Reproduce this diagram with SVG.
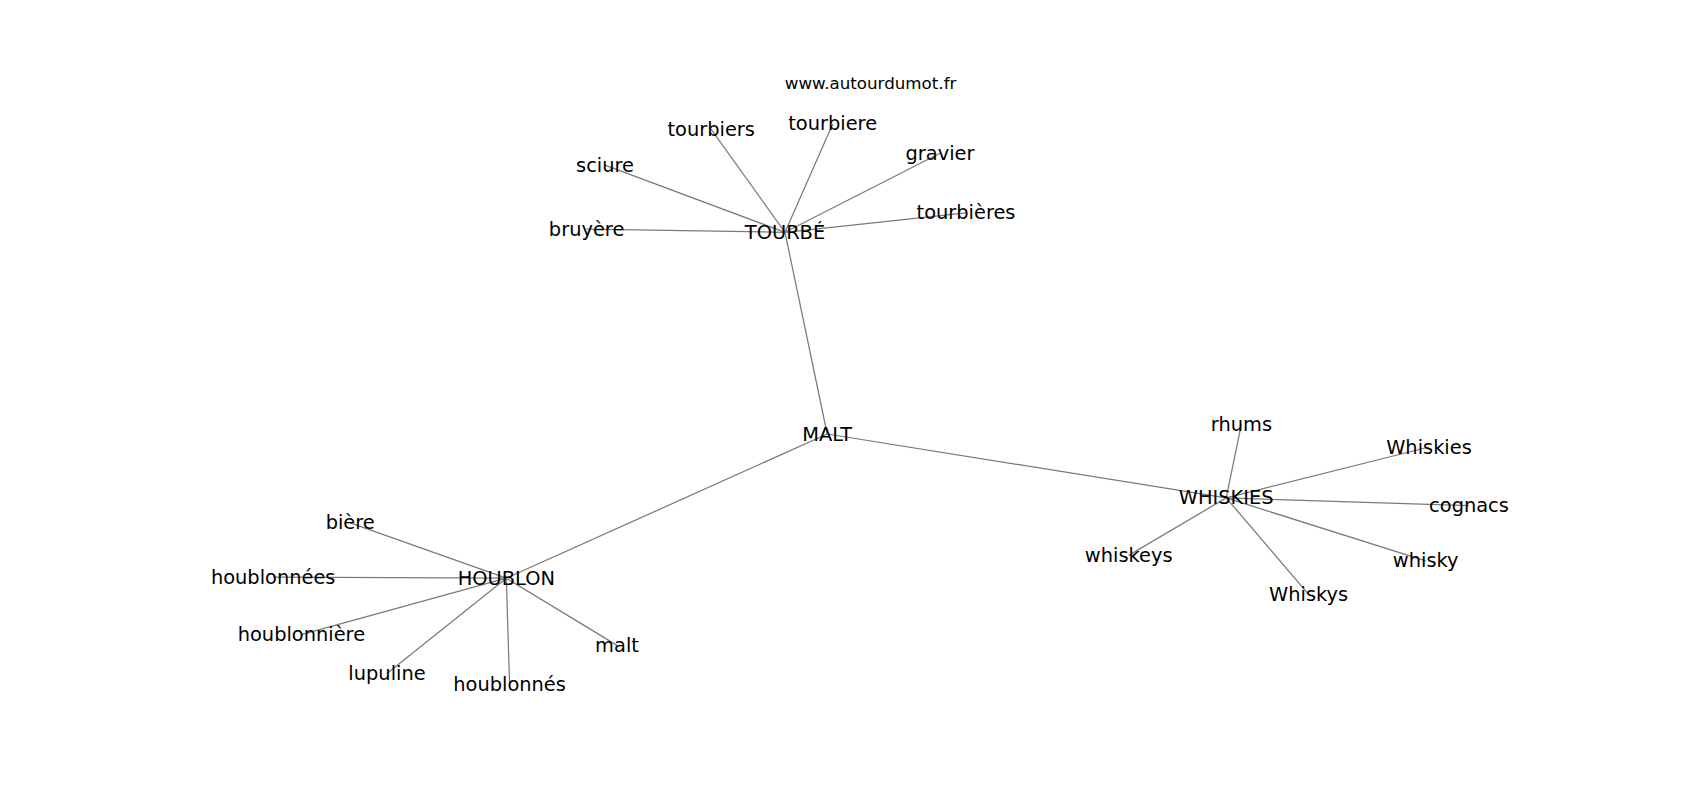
<svg xmlns="http://www.w3.org/2000/svg" width="1700" height="800" viewBox="0 0 1700 800">
<style>
.e{stroke:#7a7a7a;stroke-width:1.25;fill:none}
.n text{font-family:"DejaVu Sans",sans-serif;font-size:19.4px;fill:#000;text-anchor:middle}
.w{font-family:"DejaVu Sans",sans-serif;font-size:16.7px;fill:#000;text-anchor:middle}
</style>
<rect width="1700" height="800" fill="#fff"/>
<text class="w" x="870.6" y="88.8">www.autourdumot.fr</text>
<g id="edges">
<line class="e" x1="785" y1="232.3" x2="827.2" y2="434"/>
<line class="e" x1="827.2" y1="434" x2="506.3" y2="578.2"/>
<line class="e" x1="827.2" y1="434" x2="1226.2" y2="497.9"/>
<line class="e" x1="785" y1="232.3" x2="711.2" y2="129.3"/>
<line class="e" x1="785" y1="232.3" x2="832.7" y2="123.9"/>
<line class="e" x1="785" y1="232.3" x2="940" y2="153.2"/>
<line class="e" x1="785" y1="232.3" x2="605" y2="165.1"/>
<line class="e" x1="785" y1="232.3" x2="966" y2="212.9"/>
<line class="e" x1="785" y1="232.3" x2="586.6" y2="229.1"/>
<line class="e" x1="1226.2" y1="497.9" x2="1241.4" y2="424.2"/>
<line class="e" x1="1226.2" y1="497.9" x2="1429" y2="447"/>
<line class="e" x1="1226.2" y1="497.9" x2="1469" y2="505.6"/>
<line class="e" x1="1226.2" y1="497.9" x2="1128.7" y2="555.4"/>
<line class="e" x1="1226.2" y1="497.9" x2="1425.7" y2="560.9"/>
<line class="e" x1="1226.2" y1="497.9" x2="1308.6" y2="594.4"/>
<line class="e" x1="506.3" y1="578.2" x2="350.2" y2="522.9"/>
<line class="e" x1="506.3" y1="578.2" x2="273.2" y2="577.1"/>
<line class="e" x1="506.3" y1="578.2" x2="301.4" y2="634.6"/>
<line class="e" x1="506.3" y1="578.2" x2="617" y2="645.4"/>
<line class="e" x1="506.3" y1="578.2" x2="387" y2="673.6"/>
<line class="e" x1="506.3" y1="578.2" x2="509.6" y2="684.4"/>
</g>
<g id="n-tourbe" class="n"><text x="785" y="238.8">TOURBÉ</text></g>
<g id="n-malt-hub" class="n"><text x="827.2" y="440.5">MALT</text></g>
<g id="n-houblon" class="n"><text x="506.3" y="584.7">HOUBLON</text></g>
<g id="n-whiskies-hub" class="n"><text x="1226.2" y="504.4">WHISKIES</text></g>
<g id="n-tourbiers" class="n"><text x="711.2" y="135.8">tourbiers</text></g>
<g id="n-tourbiere" class="n"><text x="832.7" y="130.4">tourbiere</text></g>
<g id="n-gravier" class="n"><text x="940" y="159.7">gravier</text></g>
<g id="n-sciure" class="n"><text x="605" y="171.6">sciure</text></g>
<g id="n-tourbieres" class="n"><text x="966" y="219.4">tourbières</text></g>
<g id="n-bruyere" class="n"><text x="586.6" y="235.6">bruyère</text></g>
<g id="n-rhums" class="n"><text x="1241.4" y="430.7">rhums</text></g>
<g id="n-Whiskies" class="n"><text x="1429" y="453.5">Whiskies</text></g>
<g id="n-cognacs" class="n"><text x="1469" y="512.1">cognacs</text></g>
<g id="n-whiskeys" class="n"><text x="1128.7" y="561.9">whiskeys</text></g>
<g id="n-whisky" class="n"><text x="1425.7" y="567.4">whisky</text></g>
<g id="n-Whiskys" class="n"><text x="1308.6" y="600.9">Whiskys</text></g>
<g id="n-biere" class="n"><text x="350.2" y="529.4">bière</text></g>
<g id="n-houblonnees" class="n"><text x="273.2" y="583.6">houblonnées</text></g>
<g id="n-houblonniere" class="n"><text x="301.4" y="641.1">houblonnière</text></g>
<g id="n-malt" class="n"><text x="617" y="651.9">malt</text></g>
<g id="n-lupuline" class="n"><text x="387" y="680.1">lupuline</text></g>
<g id="n-houblonnes" class="n"><text x="509.6" y="690.9">houblonnés</text></g>
</svg>
